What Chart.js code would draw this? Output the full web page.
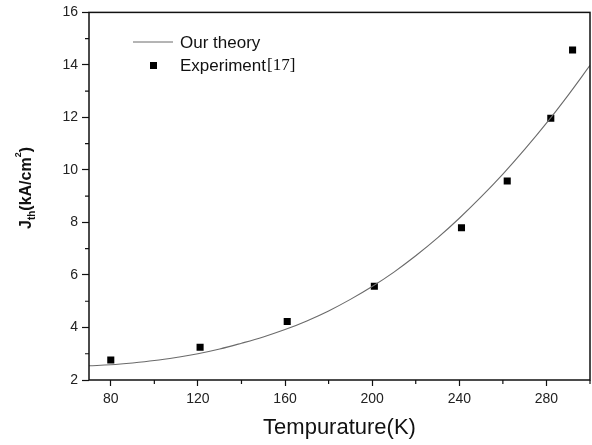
<!DOCTYPE html>
<html>
<head>
<meta charset="utf-8">
<script src="https://cdn.jsdelivr.net/npm/chart.js@4/dist/chart.umd.min.js"></script>
<style>
  html, body { margin:0; padding:0; background:#fff; }
  /* Chart.js keeps ~5px on the right for the x scale; widen the box a bit and clip it */
  #wrap { width:592px; height:445px; overflow:hidden; }
  #box  { width:595px; height:445px; position:relative; }
</style>
</head>
<body>
<div id="wrap"><div id="box"><canvas id="jthChart"></canvas></div></div>
<script>
/* ===================== DATA ===================== */
// Theory curve, sampled by eye every ~10 K
const theoryT = [70, 80, 90, 100, 110, 120, 130, 140, 150, 160, 170, 180, 190, 200, 210, 220, 230, 240, 250, 260, 270, 280, 290, 300];
const theoryJ = [2.54, 2.58, 2.65, 2.74, 2.86, 3.0, 3.18, 3.40, 3.64, 3.92, 4.25, 4.63, 5.07, 5.56, 6.11, 6.73, 7.41, 8.16, 8.97, 9.84, 10.78, 11.78, 12.85, 13.98];

// Experiment[17] squares
const expT = [80, 121, 161, 201, 241, 262, 282, 292];
const expJ = [2.76, 3.25, 4.23, 5.57, 7.8, 9.58, 11.97, 14.57];

// Axis ticks
const xMajorTicks = [80, 120, 160, 200, 240, 280];
const xMinorTicks = [100, 140, 180, 220, 260, 300];
const yMajorTicks = [2, 4, 6, 8, 10, 12, 14, 16];
const yMinorTicks = [3, 5, 7, 9, 11, 13, 15];

const FONT = '"Liberation Sans", Arial, sans-serif';

/* ===================== PLUGINS ===================== */
// Box frame + short minor ticks (Chart.js only draws one tick length)
const frameTicks = {
  id: 'frameTicks',
  afterDraw(chart){
    const { ctx, chartArea:a, scales } = chart;
    ctx.save();
    ctx.strokeStyle = '#111';
    ctx.lineWidth = 1.5;
    ctx.strokeRect(a.left, a.top, a.right - a.left, a.bottom - a.top);

    ctx.lineWidth = 1.2;
    ctx.beginPath();
    xMinorTicks.forEach(v => {
      const x = scales.x.getPixelForValue(v);
      ctx.moveTo(x, a.bottom); ctx.lineTo(x, a.bottom + 4);
    });
    yMinorTicks.forEach(v => {
      const y = scales.y.getPixelForValue(v);
      ctx.moveTo(a.left, y); ctx.lineTo(a.left - 4, y);
    });
    ctx.stroke();
    ctx.restore();
  }
};

// Y title with sub/superscript: J_th(kA/cm^2)
const yTitle = {
  id: 'yTitle',
  afterDraw(chart){
    const { ctx } = chart;
    const big = `bold 16px ${FONT}`, small = `bold 10px ${FONT}`, tiny = `bold 9px ${FONT}`;
    const parts = [
      { t:'J', f:big, dy:0 },
      { t:'th', f:small, dy:5 },
      { t:'(kA/cm', f:big, dy:0 },
      { t:'2', f:tiny, dy:-8 },
      { t:')', f:big, dy:0 }
    ];
    ctx.save();
    let total = 0;
    parts.forEach(p => { ctx.font = p.f; p.w = ctx.measureText(p.t).width; total += p.w; });
    ctx.translate(27, 188);
    ctx.rotate(-Math.PI / 2);
    ctx.fillStyle = '#111';
    ctx.textBaseline = 'middle';
    let x = -total / 2;
    parts.forEach(p => { ctx.font = p.f; ctx.fillText(p.t, x, p.dy); x += p.w; });
    ctx.restore();
  }
};

// Legend drawn inside the plot, top-left
const innerLegend = {
  id: 'innerLegend',
  afterDraw(chart){
    const { ctx } = chart;
    const line = chart.data.datasets[0], pts = chart.data.datasets[1];
    ctx.save();
    ctx.strokeStyle = line.borderColor;
    ctx.lineWidth = 1;
    ctx.beginPath(); ctx.moveTo(133, 42); ctx.lineTo(173, 42); ctx.stroke();
    ctx.fillStyle = pts.backgroundColor;
    ctx.fillRect(150, 62, 7, 7);

    ctx.fillStyle = '#111';
    ctx.textBaseline = 'middle';
    ctx.font = `17px ${FONT}`;
    ctx.fillText(line.label, 180, 43);
    ctx.fillText('Experiment', 180, 66);
    const w = ctx.measureText('Experiment').width;
    ctx.font = '17px "Liberation Serif", "Times New Roman", serif';
    ctx.fillText('[17]', 180 + w + 1, 66);
    ctx.restore();
  }
};

/* ===================== CHART ===================== */
function drawChart(){
  const ctx = document.getElementById('jthChart');
  if(!ctx || !window.Chart) return;

  new Chart(ctx, {
    type:'scatter',
    data:{
      datasets:[
        {
          type:'line',
          label:'Our theory',
          data: theoryT.map((t, i) => ({ x:t, y:theoryJ[i] })),
          borderColor:'#6a6a6a',
          borderWidth:1.1,
          pointRadius:0,
          tension:0.4,
          fill:false
        },
        {
          label:'Experiment[17]',
          data: expT.map((t, i) => ({ x:t, y:expJ[i] })),
          pointStyle:'rect',
          pointRadius:5,
          backgroundColor:'#000',
          borderColor:'#000',
          borderWidth:0
        }
      ]
    },
    options:{
      responsive:true, maintainAspectRatio:false, animation:false,
      layout:{ padding:{ top:12, right:0, left:0, bottom:0 } },
      plugins:{ legend:{ display:false }, tooltip:{ enabled:false } },
      scales:{
        x:{
          type:'linear', min:70, max:300,
          afterBuildTicks: s => { s.ticks = xMajorTicks.map(value => ({ value })); },
          afterFit: s => { s.height = 65; },
          grid:{ drawOnChartArea:false, drawTicks:true, tickLength:6, tickColor:'#111', tickWidth:1.2 },
          border:{ display:false },
          ticks:{ color:'#222', font:{ family:FONT, size:14 }, padding:5, maxRotation:0 },
          title:{ display:true, text:'Tempurature(K)', color:'#111',
                  font:{ family:FONT, size:22 }, padding:{ top:2, bottom:4 } }
        },
        y:{
          type:'linear', min:2, max:16,
          afterBuildTicks: s => { s.ticks = yMajorTicks.map(value => ({ value })); },
          afterFit: s => { s.width = 89; },
          grid:{ drawOnChartArea:false, drawTicks:true, tickLength:7, tickColor:'#111', tickWidth:1.2 },
          border:{ display:false },
          ticks:{ color:'#222', font:{ family:FONT, size:14 }, padding:4 }
        }
      }
    },
    plugins:[frameTicks, yTitle, innerLegend]
  });
}

drawChart();
</script>
</body>
</html>
